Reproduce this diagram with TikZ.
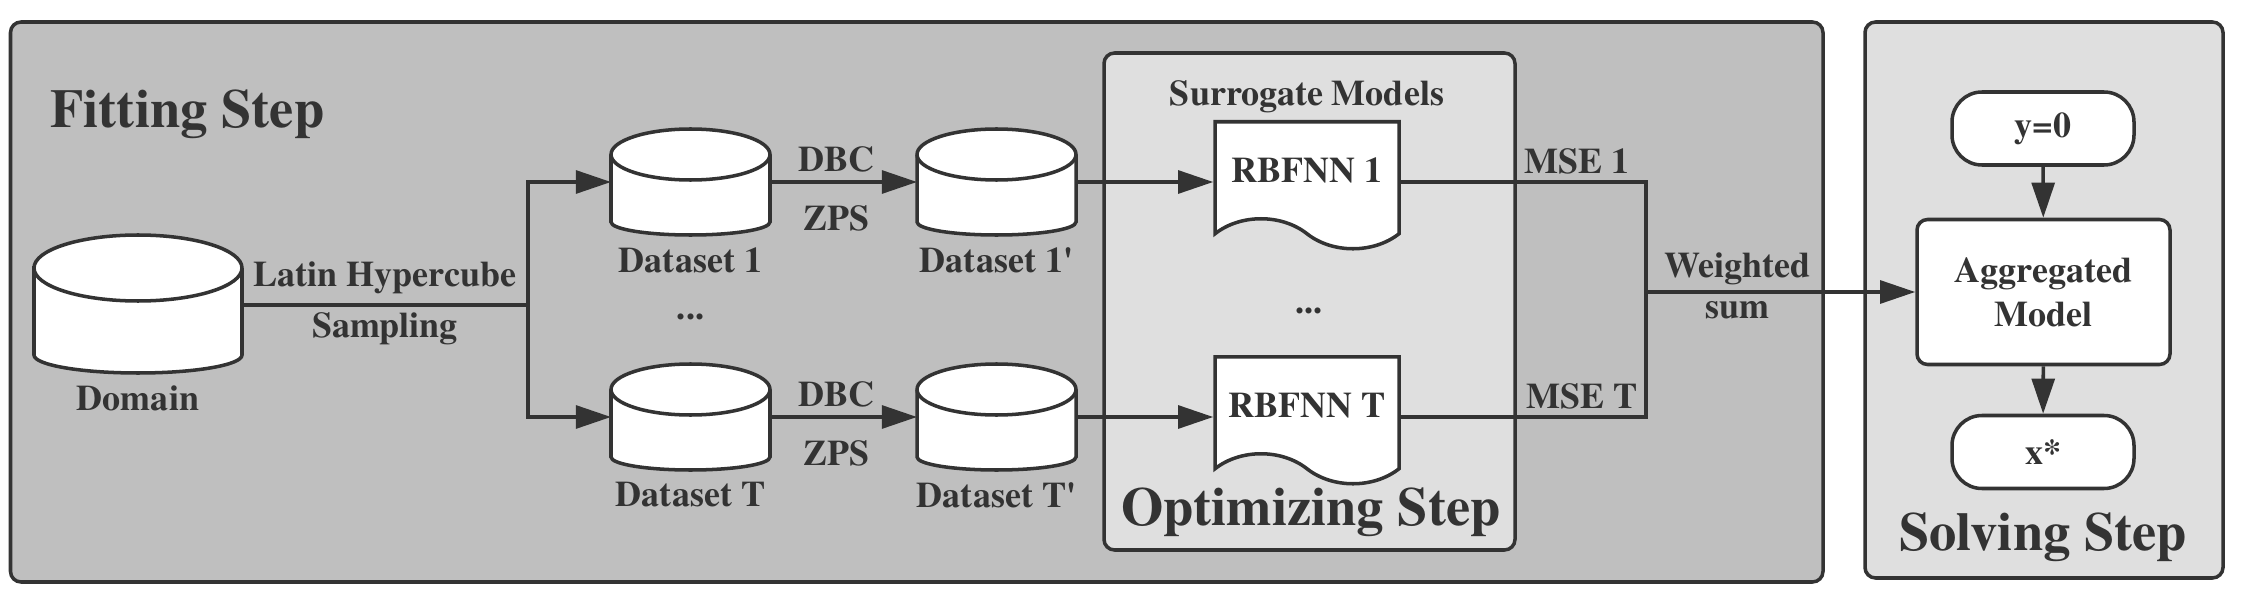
\documentclass[tikz,border=0pt]{standalone}
\usepackage{fontspec}
\setmainfont{texgyretermes}[Extension=.otf,UprightFont=*-regular,BoldFont=*-bold,
  ItalicFont=*-italic,BoldItalicFont=*-bolditalic]
\usepackage{xcolor}
\usetikzlibrary{arrows.meta,positioning,shapes.symbols}
\definecolor{ink}{HTML}{333333}
\definecolor{fitgray}{HTML}{BFBFBF}
\definecolor{boxgray}{HTML}{DFDFDF}

% database drum over a named node: name, x radius, top cap, bottom cap
\newcommand{\drawdb}[4]{%
  \draw[conn,fill=white] ([yshift=-#3]#1.north west) -- ([yshift=#4]#1.south west)
    arc[start angle=180,end angle=360,x radius=#2,y radius=#4]
    -- ([yshift=-#3]#1.north east)
    arc[start angle=0,end angle=180,x radius=#2,y radius=#3] -- cycle;
  \draw[conn] ([yshift=-#3]#1.north west)
    arc[start angle=180,end angle=360,x radius=#2,y radius=#3];}

\begin{document}
\begin{tikzpicture}[>={Triangle[length=10pt,width=6.5pt]},
  every node/.style={text=ink,font=\fontsize{10.25}{12.5}\selectfont\bfseries},
  conn/.style={draw=ink,line width=1pt},
  steplabel/.style={font=\fontsize{15.5}{18}\selectfont\bfseries},
  db/.style={rectangle,inner sep=0pt,outer sep=0pt,minimum width=1.59cm,minimum height=1.06cm},
  doc/.style={tape,tape bend top=none,tape bend bottom=out and in,tape bend height=0.3cm,
    draw=ink,line width=1pt,fill=white,minimum width=1.84cm,minimum height=1.27cm,
    anchor=north},
  term/.style={rectangle,rounded corners=0.3cm,draw=ink,line width=1pt,fill=white,
    minimum width=1.82cm,minimum height=0.73cm},
  proc/.style={rectangle,rounded corners=3pt,draw=ink,line width=1pt,fill=white,
    minimum width=2.53cm,minimum height=1.45cm,align=center}]
  \useasboundingbox (0,0) rectangle (22.42,6);

  % the three steps
  \draw[conn,fill=fitgray,rounded corners=3pt] (0.105,0.18) rectangle (18.23,5.78);
  \draw[conn,fill=boxgray,rounded corners=3pt] (11.04,0.50) rectangle (15.15,5.47);
  \draw[conn,fill=boxgray,rounded corners=3pt] (18.65,0.22) rectangle (22.23,5.78);
  \node[steplabel,anchor=base west] (fittitle) at (0.38,4.72) {Fitting Step};
  \node[steplabel,anchor=base] (opttitle) at (13.11,0.75) {Optimizing Step};
  \node[steplabel,anchor=base] (soltitle) at (20.43,0.50) {Solving Step};

  \coordinate (split) at (5.28,2.95);
  \coordinate (wsum) at (16.46,3.08);

  % fitting
  \node[db,minimum width=2.08cm,minimum height=1.38cm] (domain) at (1.38,2.96) {};
  \drawdb{domain}{1.04cm}{0.33cm}{0.18cm}
  \node[below=0pt of domain] (domainlbl) {Domain};
  \node[db] (ds1) at (6.905,4.18) {};
  \node[db] (dsT) at (6.905,1.83) {};
  \node[db] (ds1p) at (9.965,4.18) {};
  \node[db] (dsTp) at (9.965,1.83) {};
  \foreach \d in {ds1,dsT,ds1p,dsTp}
    \drawdb{\d}{0.795cm}{0.255cm}{0.13cm};
  \node[below=0pt of ds1] (ds1lbl) {Dataset 1};
  \node[below=0pt of dsT] (dsTlbl) {Dataset T};
  \node[below=0pt of ds1p] (ds1plbl) {Dataset 1\textquotesingle};
  \node[below=0pt of dsTp] (dsTplbl) {Dataset T\textquotesingle};
  \node[anchor=base] (dots1) at (6.905,2.80) {...};

  % optimizing
  \node[doc] (rb1) at (13.07,4.80) {RBFNN 1};
  \node[doc] (rbT) at (13.07,2.45) {RBFNN T};
  \node[above=-1.5pt of rb1] (surr) {Surrogate Models};
  \node[anchor=base] (dots2) at (13.09,2.87) {...};

  % solving
  \node[term] (yzero) at (20.43,4.715) {y=0};
  \node[proc] (agg) at (20.435,3.08) {Aggregated\\Model};
  \node[term] (xstar) at (20.43,1.48) {x*};

  \draw[conn] (domain.east |- split) -- node[above,inner sep=2.8pt]{Latin Hypercube}
    node[below,inner sep=1.7pt]{Sampling} (split);
  \draw[conn,->] (split) |- (ds1);
  \draw[conn,->] (split) |- (dsT);
  \draw[conn,->] (ds1) -- node[above,pos=.45,inner sep=2.3pt]{DBC}
    node[below=3pt,pos=.45]{ZPS} (ds1p);
  \draw[conn,->] (dsT) -- node[above,pos=.45,inner sep=2.3pt]{DBC}
    node[below=3pt,pos=.45]{ZPS} (dsTp);
  \draw[conn,->] (ds1p) -- (ds1p -| rb1.west);
  \draw[conn,->] (dsTp) -- (dsTp -| rbT.west);
  \draw[conn] (ds1p -| rb1.east) -- node[pos=.72,above,inner sep=1.7pt]{MSE 1} (ds1p -| wsum)
    -- (dsTp -| wsum) -- node[pos=.26,above,inner sep=1.7pt]{MSE T} (dsTp -| rbT.east);
  \draw[conn,->] (wsum) -- node[above,pos=.34,inner sep=1.5pt]{Weighted}
    node[below,pos=.34,inner sep=2.3pt]{sum} (agg);
  \draw[conn,->] (yzero) -- (agg);
  \draw[conn,->] (agg) -- (xstar);
\end{tikzpicture}
\end{document}
